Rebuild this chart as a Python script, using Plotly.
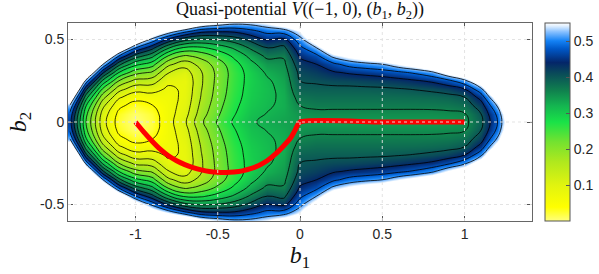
import plotly.graph_objects as go

# ---- grid coordinates (b1 columns, b2 >= 0 rows; field is mirror-symmetric in b2)
b1_grid = [-1.4, -1.3, -1.2, -1.1, -1.0, -0.9, -0.8, -0.7, -0.6, -0.5, -0.4, -0.3, -0.2, -0.1,
           0.0, 0.1, 0.2, 0.3, 0.4, 0.5, 0.6, 0.7, 0.8, 0.9, 1.0, 1.1, 1.2, 1.3, 1.4]
b2_half = [0.0, 0.05, 0.10, 0.15, 0.20, 0.25, 0.30, 0.35, 0.40, 0.45, 0.50, 0.55, 0.60]

# ---- quasi-potential values, one list per b1 column (b2 = 0 ... 0.6)
v_m14 = [0.46, 0.475, 0.52, 0.60, 0.70, 0.78, 0.80, 0.80, 0.80, 0.80, 0.80, 0.80, 0.80]
v_m13 = [0.24, 0.251, 0.282, 0.336, 0.41, 0.506, 0.62, 0.72, 0.78, 0.80, 0.80, 0.80, 0.80]
v_m12 = [0.097, 0.106, 0.132, 0.176, 0.237, 0.315, 0.411, 0.525, 0.63, 0.72, 0.78, 0.80, 0.80]
v_m11 = [0.022, 0.029, 0.050, 0.086, 0.136, 0.20, 0.279, 0.372, 0.479, 0.60, 0.70, 0.76, 0.80]
v_m10 = [0.0, 0.006, 0.024, 0.054, 0.096, 0.149, 0.215, 0.292, 0.382, 0.483, 0.60, 0.70, 0.76]
v_m09 = [0.018, 0.023, 0.038, 0.062, 0.097, 0.141, 0.195, 0.259, 0.333, 0.416, 0.51, 0.60, 0.70]
v_m08 = [0.065, 0.064, 0.064, 0.066, 0.073, 0.09, 0.122, 0.17, 0.237, 0.325, 0.432, 0.55, 0.68]
v_m07 = [0.113, 0.103, 0.095, 0.089, 0.086, 0.085, 0.100, 0.137, 0.194, 0.273, 0.374, 0.495, 0.638]
v_m06 = [0.193, 0.181, 0.171, 0.163, 0.158, 0.155, 0.157, 0.175, 0.214, 0.274, 0.354, 0.454, 0.575]
v_m05 = [0.244, 0.234, 0.226, 0.219, 0.215, 0.212, 0.211, 0.220, 0.249, 0.296, 0.362, 0.446, 0.55]
v_m04 = [0.286, 0.277, 0.270, 0.264, 0.260, 0.258, 0.257, 0.265, 0.288, 0.326, 0.379, 0.448, 0.532]
v_m03 = [0.316, 0.309, 0.303, 0.298, 0.296, 0.294, 0.296, 0.308, 0.331, 0.366, 0.411, 0.468, 0.535]
v_m02 = [0.327, 0.321, 0.316, 0.313, 0.312, 0.315, 0.325, 0.343, 0.369, 0.402, 0.444, 0.493, 0.55]
v_m01 = [0.335, 0.330, 0.326, 0.326, 0.329, 0.334, 0.341, 0.35, 0.365, 0.39, 0.43, 0.50, 0.585]
v_p00 = [0.34, 0.347, 0.36, 0.375, 0.39, 0.40, 0.41, 0.425, 0.445, 0.47, 0.505, 0.55, 0.62]
v_p01 = [0.34, 0.352, 0.367, 0.38, 0.392, 0.405, 0.42, 0.44, 0.47, 0.52, 0.58, 0.66, 0.75]
v_p02 = [0.34, 0.352, 0.367, 0.38, 0.393, 0.41, 0.435, 0.47, 0.53, 0.60, 0.70, 0.78, 0.80]
v_p03 = [0.34, 0.352, 0.367, 0.38, 0.393, 0.412, 0.445, 0.495, 0.56, 0.66, 0.75, 0.80, 0.80]
v_p04 = [0.34, 0.352, 0.367, 0.38, 0.394, 0.416, 0.452, 0.508, 0.585, 0.68, 0.77, 0.80, 0.80]
v_p05 = [0.34, 0.352, 0.367, 0.38, 0.395, 0.42, 0.46, 0.52, 0.60, 0.70, 0.78, 0.80, 0.80]
v_p06 = [0.34, 0.352, 0.367, 0.381, 0.398, 0.427, 0.472, 0.55, 0.65, 0.75, 0.80, 0.80, 0.80]
v_p07 = [0.34, 0.352, 0.367, 0.382, 0.402, 0.436, 0.487, 0.575, 0.68, 0.77, 0.80, 0.80, 0.80]
v_p08 = [0.34, 0.352, 0.368, 0.384, 0.408, 0.447, 0.51, 0.61, 0.72, 0.80, 0.80, 0.80, 0.80]
v_p09 = [0.341, 0.354, 0.37, 0.388, 0.418, 0.47, 0.56, 0.66, 0.76, 0.80, 0.80, 0.80, 0.80]
v_p10 = [0.35, 0.358, 0.378, 0.40, 0.44, 0.51, 0.60, 0.70, 0.78, 0.80, 0.80, 0.80, 0.80]
v_p11 = [0.39, 0.40, 0.42, 0.455, 0.51, 0.59, 0.68, 0.76, 0.80, 0.80, 0.80, 0.80, 0.80]
v_p12 = [0.48, 0.49, 0.525, 0.58, 0.66, 0.75, 0.80, 0.80, 0.80, 0.80, 0.80, 0.80, 0.80]
v_p13 = [0.63, 0.65, 0.69, 0.75, 0.80, 0.80, 0.80, 0.80, 0.80, 0.80, 0.80, 0.80, 0.80]
v_p14 = [0.78, 0.79, 0.80, 0.80, 0.80, 0.80, 0.80, 0.80, 0.80, 0.80, 0.80, 0.80, 0.80]

columns = [v_m14, v_m13, v_m12, v_m11, v_m10, v_m09, v_m08, v_m07, v_m06, v_m05, v_m04,
           v_m03, v_m02, v_m01, v_p00, v_p01, v_p02, v_p03, v_p04, v_p05, v_p06, v_p07,
           v_p08, v_p09, v_p10, v_p11, v_p12, v_p13, v_p14]

# ---- minimum action path (red curve)
map_b1 = [-1.0, -0.95, -0.9, -0.85, -0.8, -0.75, -0.7, -0.65, -0.6, -0.55, -0.5, -0.45, -0.4,
          -0.35, -0.3, -0.25, -0.2, -0.15, -0.1, -0.06, -0.03, 0.0, 0.5, 1.0]
map_b2 = [0.0, -0.06, -0.115, -0.165, -0.205, -0.235, -0.258, -0.276, -0.29, -0.3, -0.305,
          -0.306, -0.303, -0.296, -0.283, -0.263, -0.235, -0.195, -0.145, -0.1, -0.05, 0.0,
          0.0, 0.0]

# ---- ticks / levels
x_ticks = [-1, -0.5, 0, 0.5, 1]
x_labels = ["-1", "-0.5", "0", "0.5", "1"]
y_ticks = [-0.5, 0, 0.5]
y_labels = ["-0.5", "0", "0.5"]
cb_ticks = [0.1, 0.2, 0.3, 0.4, 0.5]
cb_labels = ["0.1", "0.2", "0.3", "0.4", "0.5"]
contour_start, contour_end, contour_step = 0.04, 0.52, 0.04
v_min, v_max = 0.0, 0.55

# build full symmetric grid
n = len(b2_half)
row_idx = list(range(n - 1, 0, -1)) + list(range(n))
b2_grid = [-b2_half[k] for k in range(n - 1, 0, -1)] + b2_half
z = [[col[k] for col in columns] for k in row_idx]

colorscale = [
    [0.00, "rgb(255,255,125)"],
    [0.07, "rgb(255,255,0)"],
    [0.18, "rgb(225,244,15)"],
    [0.30, "rgb(175,232,30)"],
    [0.40, "rgb(115,226,48)"],
    [0.50, "rgb(25,226,72)"],
    [0.58, "rgb(20,182,80)"],
    [0.66, "rgb(16,128,78)"],
    [0.74, "rgb(10,78,88)"],
    [0.80, "rgb(4,38,105)"],
    [0.87, "rgb(0,88,200)"],
    [0.91, "rgb(20,130,245)"],
    [0.955, "rgb(135,192,255)"],
    [0.985, "rgb(225,240,255)"],
    [1.00, "rgb(255,255,255)"],
]

tick_font = dict(family="Liberation Sans, Arial, sans-serif", size=14, color="#262626")
serif = "Liberation Serif, DejaVu Serif, serif"

fig = go.Figure()
fig.add_trace(go.Heatmap(
    x=b1_grid, y=b2_grid, z=z, zmin=v_min, zmax=v_max, zsmooth="best",
    colorscale=colorscale,
    colorbar=dict(
        xref="container", x=544.5 / 599, xanchor="left", xpad=0,
        yref="paper", y=0.5, yanchor="middle", len=1.0, lenmode="fraction", ypad=0,
        thickness=25, thicknessmode="pixels",
        outlinecolor="#555", outlinewidth=1,
        tickvals=cb_ticks, ticktext=cb_labels, ticks="inside", ticklen=4,
        tickcolor="#555", tickfont=tick_font,
    ),
    hoverinfo="skip",
))
fig.add_trace(go.Contour(
    x=b1_grid, y=b2_grid, z=z, autocontour=False, showscale=False,
    contours=dict(start=contour_start, end=contour_end, size=contour_step, coloring="none"),
    line=dict(color="black", width=0.8, smoothing=1.3),
    hoverinfo="skip",
))
fig.add_trace(go.Scatter(
    x=map_b1, y=map_b2, mode="lines",
    line=dict(color="rgb(255,0,0)", width=5, shape="spline", smoothing=0.6),
    hoverinfo="skip", showlegend=False,
))

# dotted grid drawn above the data (as in the original)
shapes = []
for xv in x_ticks:
    shapes.append(dict(type="line", xref="x", yref="paper", x0=xv, x1=xv, y0=0, y1=1,
                       line=dict(color="rgba(225,225,225,0.95)", width=1, dash="dot"),
                       layer="above"))
for yv in y_ticks:
    shapes.append(dict(type="line", xref="paper", yref="y", x0=0, x1=1, y0=yv, y1=yv,
                       line=dict(color="rgba(225,225,225,0.95)", width=1, dash="dot"),
                       layer="above"))

axis_common = dict(
    ticks="inside", ticklen=5, tickcolor="#555", showline=True, linecolor="#666",
    linewidth=1, mirror="ticks", showgrid=False, zeroline=False, tickfont=tick_font,
)

fig.update_layout(
    width=599, height=274,
    margin=dict(l=68, r=67, t=23, b=53),
    paper_bgcolor="white", plot_bgcolor="white",
    showlegend=False,
    shapes=shapes,
    title=dict(
        text="Quasi-potential <i>V</i>((\u22121, 0), (<i>b</i><sub>1</sub>, <i>b</i><sub>2</sub>))",
        x=0.5, xref="paper", xanchor="center", y=1 - 9 / 274, yref="container", yanchor="middle",
        font=dict(family=serif, size=18, color="#111"),
    ),
    xaxis=dict(range=[-1.41, 1.41], tickvals=x_ticks, ticktext=x_labels,
               title=dict(text="<i>b</i><sub>1</sub>", standoff=2,
                          font=dict(family=serif, size=24, color="#111")),
               **axis_common),
    yaxis=dict(range=[-0.6, 0.6], tickvals=y_ticks, ticktext=y_labels,
               title=dict(text="<i>b</i><sub>2</sub>", standoff=6,
                          font=dict(family=serif, size=24, color="#111")),
               **axis_common),
)

fig.write_html("out.html", config={"displayModeBar": False},
               post_script="document.body.style.margin='0';")
